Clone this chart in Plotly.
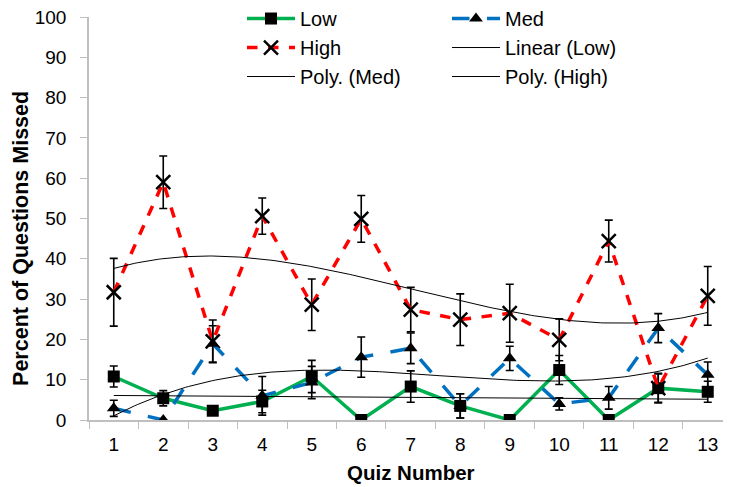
import numpy as np
import plotly.graph_objects as go

quiz = list(range(1, 14))
tick_labels = [str(q) for q in quiz]

low = [10.8, 5.4, 2.3, 4.6, 10.8, 0, 8.3, 3.5, 0, 12.4, 0, 7.9, 7.0]
low_err = [2.6, 1.9, 1.0, 2.8, 4.0, 0, 3.9, 3.0, 0, 3.6, 0, 3.5, 2.6]
med = [2.9, 0, 18.9, 6.0, 9.3, 15.6, 17.8, 3.5, 15.3, 4.0, 5.5, 22.8, 11.2]
med_err = [2.0, 0, 4.5, 4.8, 4.0, 5.0, 3.8, 3.0, 3.0, 1.5, 2.8, 3.6, 3.2]
high = [31.7, 59.0, 19.5, 50.6, 28.6, 49.9, 27.4, 24.9, 26.5, 19.9, 44.4, 7.9, 30.8]
high_err = [8.4, 6.5, 5.3, 4.5, 6.4, 5.8, 5.5, 6.4, 7.2, 5.2, 5.2, 3.7, 7.3]

GREEN = "#00B050"
BLUE = "#0070C0"
RED = "#FF0000"
FONT = "Liberation Sans, Arial, sans-serif"

# Trendlines (Excel-style fits over the data)
xq = np.array(quiz, dtype=float)
xs = np.linspace(1, 13, 200)
lin_low = np.polyval(np.polyfit(xq, low, 1), xs)
poly_med = np.polyval(np.polyfit(xq, med, 3), xs)
poly_high = np.polyval(np.polyfit(xq, high, 3), xs)

fig = go.Figure()

def err(vals):
    return dict(type="data", array=vals, visible=True, color="black", thickness=1.6, width=4)

fig.add_trace(go.Scatter(x=quiz, y=low, name="Low", mode="lines+markers",
                         line=dict(color=GREEN, width=3.5),
                         marker=dict(symbol="square", size=12, color="black"),
                         error_y=err(low_err), legend="legend", legendgroup="a"))
fig.add_trace(go.Scatter(x=quiz, y=high, name="High", mode="lines+markers",
                         line=dict(color=RED, width=3.5, dash="dash"),
                         marker=dict(symbol="x-thin-open", size=14, color="black",
                                     line=dict(color="black", width=2.5)),
                         error_y=err(high_err), legend="legend", legendgroup="b"))
fig.add_trace(go.Scatter(x=quiz, y=med, name="Med", mode="lines+markers",
                         line=dict(color=BLUE, width=3.5, dash="longdash"),
                         marker=dict(symbol="triangle-up", size=12, color="black"),
                         error_y=err(med_err), legend="legend2", legendgroup="d"))
fig.add_trace(go.Scatter(x=xs, y=lin_low, name="Linear (Low)", mode="lines",
                         line=dict(color="black", width=1), legend="legend2", legendgroup="e"))
fig.add_trace(go.Scatter(x=xs, y=poly_med, name="Poly. (Med)", mode="lines",
                         line=dict(color="black", width=1), legend="legend", legendgroup="c"))
fig.add_trace(go.Scatter(x=xs, y=poly_high, name="Poly. (High)", mode="lines",
                         line=dict(color="black", width=1), legend="legend2", legendgroup="f"))

leg_common = dict(orientation="v", yanchor="top", xanchor="left", xref="paper", yref="paper",
                  bgcolor="rgba(0,0,0,0)", font=dict(family=FONT, size=20, color="black"),
                  traceorder="grouped", tracegroupgap=0, itemwidth=48)
fig.update_layout(
    width=723, height=479,
    margin=dict(l=81, r=0, t=9, b=67, autoexpand=False),
    plot_bgcolor="white", paper_bgcolor="white",
    font=dict(family=FONT, size=16, color="black"),
    legend=dict(x=0.2383, y=1.0446, **leg_common),
    legend2=dict(x=0.5576, y=1.0446, **leg_common),
    xaxis=dict(range=[0.5, 13.47], tickvals=quiz, ticktext=tick_labels, automargin=False,
               showgrid=False, zeroline=False, showline=True, linecolor="#BFBFBF", linewidth=1.5,
               ticks="", tickfont=dict(size=19), ticklabelstandoff=6, ticklabeloverflow="allow",
               minor=dict(tickvals=[q + 0.5 for q in [0] + quiz], ticks="outside", ticklen=7,
                          tickcolor="#BFBFBF", tickwidth=1, showgrid=False)),
    yaxis=dict(range=[0, 100], tickvals=list(range(0, 101, 10)), automargin=False,
               showgrid=False, zeroline=False, showline=True, linecolor="#BFBFBF", linewidth=1.5,
               ticks="outside", ticklen=7, tickcolor="#BFBFBF", tickfont=dict(size=19),
               ticklabelstandoff=10, ticklabeloverflow="allow"),
    annotations=[
        dict(text="<b>Percent of Questions Missed</b>", textangle=-90, xref="paper", yref="paper",
             x=-0.106, y=0.4516, xanchor="center", yanchor="middle", showarrow=False,
             font=dict(family=FONT, size=21.5, color="black")),
        dict(text="<b>Quiz Number</b>", xref="paper", yref="paper",
             x=0.502, y=-0.1315, xanchor="center", yanchor="middle", showarrow=False,
             font=dict(family=FONT, size=20.5, color="black")),
    ],
)

fig.write_html("out.html")
